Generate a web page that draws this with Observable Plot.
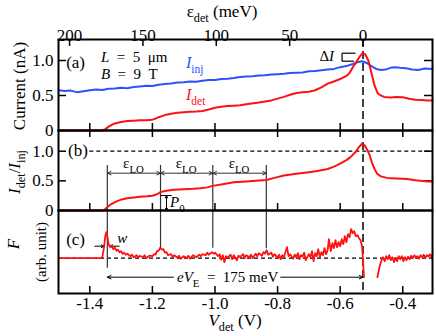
<!DOCTYPE html>
<html><head><meta charset="utf-8">
<script src="https://cdn.jsdelivr.net/npm/d3@7"></script>
<script src="https://cdn.jsdelivr.net/npm/@observablehq/plot@0.6"></script>
<style>
html,body{margin:0;padding:0;background:#fff;}
#wrap{position:relative;width:436px;height:336px;overflow:hidden;background:#fff;font-family:'Liberation Serif',serif;}
#wrap svg{position:absolute;left:0;top:0;}
#wrap svg text{font-family:'Liberation Serif',serif;}
</style></head><body><div id="wrap"></div>
<script>
// ---------------- data ----------------
const xTicks = [-1.4, -1.2, -1.0, -0.8, -0.6, -0.4];
const epsTicks = [200, 150, 100, 50, 0];
const yTicksA = [0, 0.5, 1.0];
const yTicksB = [0, 0.5, 1.0];
const vPeak = -0.527;            // V_det where eps_det = 0
const meVperV = 213.3;           // eps_det scale factor
const loLines = [-1.344, -1.174, -1.007, -0.836];
const loEnds = [-1.0, 0.9, 1.0, 0.95];   // lower ends of the guide lines in panel (c)

// panel (a): injector current
const injV = [-1.50,-1.48,-1.46,-1.44,-1.42,-1.40,-1.38,-1.36,-1.34,-1.32,-1.30,-1.28,-1.26,-1.24,-1.22,-1.20,-1.18,-1.16,-1.14,-1.12,-1.10,-1.08,-1.06,-1.04,-1.02,-1.00,-0.98,-0.96,-0.94,-0.92,-0.90,-0.88,-0.86,-0.84,-0.82,-0.80,-0.78,-0.76,-0.74,-0.72,-0.70,-0.68,-0.66,-0.64,-0.62,-0.60,-0.58,-0.56,-0.545,-0.53,-0.515,-0.50,-0.485,-0.47,-0.455,-0.44,-0.425,-0.41,-0.39,-0.37,-0.35,-0.33,-0.305];
const injI = [0.575,0.565,0.57,0.545,0.56,0.575,0.585,0.58,0.595,0.60,0.61,0.605,0.62,0.63,0.64,0.635,0.655,0.665,0.67,0.685,0.69,0.70,0.695,0.71,0.72,0.72,0.735,0.74,0.75,0.765,0.77,0.775,0.785,0.79,0.80,0.805,0.81,0.82,0.825,0.83,0.845,0.85,0.86,0.87,0.88,0.905,0.92,0.95,0.975,0.99,0.965,0.92,0.88,0.865,0.87,0.895,0.905,0.895,0.89,0.87,0.865,0.885,0.88];
// panel (a): detector current
const detV = [-1.50,-1.36,-1.35,-1.34,-1.33,-1.32,-1.30,-1.28,-1.26,-1.24,-1.22,-1.20,-1.19,-1.18,-1.16,-1.14,-1.12,-1.10,-1.08,-1.06,-1.04,-1.02,-1.00,-0.98,-0.96,-0.94,-0.92,-0.90,-0.86,-0.82,-0.80,-0.78,-0.76,-0.74,-0.72,-0.70,-0.68,-0.66,-0.64,-0.62,-0.60,-0.58,-0.57,-0.56,-0.55,-0.54,-0.53,-0.52,-0.51,-0.50,-0.49,-0.48,-0.47,-0.46,-0.44,-0.42,-0.40,-0.38,-0.36,-0.34,-0.32,-0.305];
const detI = [0,0,0.02,0.055,0.08,0.10,0.12,0.135,0.14,0.145,0.148,0.155,0.17,0.19,0.22,0.24,0.255,0.262,0.268,0.272,0.28,0.30,0.325,0.34,0.35,0.355,0.36,0.375,0.40,0.43,0.455,0.48,0.51,0.535,0.545,0.555,0.575,0.615,0.67,0.70,0.735,0.78,0.82,0.90,0.97,1.04,1.10,1.09,1.00,0.82,0.64,0.53,0.50,0.48,0.47,0.48,0.475,0.455,0.44,0.435,0.43,0.43];
// panel (b): ratio I_det / I_inj
const ratioV = [-1.50,-1.36,-1.355,-1.345,-1.334,-1.318,-1.302,-1.28,-1.259,-1.24,-1.217,-1.20,-1.19,-1.18,-1.174,-1.16,-1.132,-1.10,-1.07,-1.046,-1.025,-1.007,-0.98,-0.94,-0.90,-0.87,-0.836,-0.81,-0.78,-0.74,-0.70,-0.673,-0.64,-0.62,-0.60,-0.58,-0.567,-0.55,-0.54,-0.53,-0.522,-0.514,-0.505,-0.498,-0.49,-0.482,-0.47,-0.45,-0.42,-0.386,-0.36,-0.343,-0.32,-0.305];
const ratioR = [0,0,0.005,0.05,0.10,0.145,0.18,0.205,0.22,0.23,0.24,0.25,0.265,0.29,0.31,0.33,0.35,0.36,0.365,0.375,0.39,0.415,0.44,0.475,0.49,0.50,0.515,0.55,0.59,0.62,0.645,0.665,0.70,0.74,0.79,0.85,0.90,0.99,1.07,1.13,1.10,1.03,0.92,0.80,0.70,0.62,0.575,0.55,0.54,0.53,0.51,0.50,0.49,0.49];
// panel (c): F (arb. unit); null = gap in the trace
const fV = [-1.50,-1.365,-1.36,-1.355,-1.35,-1.347,-1.344,-1.34,-1.335,-1.33,-1.325,-1.32,-1.315,-1.31,-1.305,-1.30,-1.295,-1.29,-1.285,-1.28,-1.27,-1.265,-1.26,-1.25,-1.245,-1.24,-1.23,-1.225,-1.22,-1.21,-1.20,-1.195,-1.19,-1.185,-1.18,-1.175,-1.17,-1.165,-1.16,-1.155,-1.15,-1.14,-1.135,-1.13,-1.12,-1.115,-1.11,-1.10,-1.09,-1.085,-1.08,-1.07,-1.06,-1.05,-1.045,-1.04,-1.03,-1.025,-1.02,-1.01,-1.005,-1.00,-0.99,-0.985,-0.98,-0.975,-0.97,-0.965,-0.96,-0.95,-0.945,-0.94,-0.93,-0.925,-0.92,-0.91,-0.905,-0.90,-0.89,-0.885,-0.88,-0.87,-0.865,-0.86,-0.85,-0.845,-0.84,-0.835,-0.83,-0.82,-0.815,-0.81,-0.80,-0.795,-0.79,-0.785,-0.78,-0.775,-0.77,-0.765,-0.76,-0.75,-0.745,-0.74,-0.735,-0.73,-0.725,-0.72,-0.715,-0.71,-0.70,-0.695,-0.69,-0.685,-0.68,-0.675,-0.67,-0.665,-0.66,-0.655,-0.65,-0.645,-0.64,-0.636,-0.63,-0.625,-0.62,-0.615,-0.61,-0.605,-0.60,-0.595,-0.59,-0.585,-0.58,-0.575,-0.57,-0.565,-0.56,-0.555,-0.55,-0.545,-0.54,-0.535,-0.53,-0.527,-0.524,-0.50,-0.481,-0.474,-0.468,-0.463,-0.458,-0.453,-0.448,-0.443,-0.438,-0.433,-0.428,-0.423,-0.418,-0.413,-0.408,-0.403,-0.398,-0.393,-0.388,-0.383,-0.378,-0.373,-0.368,-0.363,-0.358,-0.353,-0.348,-0.343,-0.338,-0.333,-0.328,-0.323,-0.318,-0.313,-0.308,-0.305];
const fF = [0,0,0.1,1.0,2.3,2.6,2.2,1.4,1.1,1.25,0.9,1.05,0.75,0.85,0.6,0.7,0.45,0.55,0.35,0.45,0.2,0.35,0.1,0.3,0.05,0.25,0.1,0.3,0.0,0.25,0.2,0.4,0.35,0.7,0.75,1.05,0.85,0.9,0.55,0.6,0.3,0.4,0.1,0.3,0.05,0.25,-0.05,0.2,0.05,0.25,-0.05,0.3,0.1,0.35,0.2,0.4,0.3,0.55,0.35,0.6,0.45,0.55,0.2,0.4,-0.15,0.3,-0.4,0.2,0.05,0.35,-0.1,0.3,-0.2,0.25,0.1,0.4,0.0,0.3,0.1,0.35,0.0,0.45,0.2,0.5,0.25,0.6,0.45,0.8,0.35,0.55,0.15,0.4,0.05,0.35,-0.1,0.3,0.1,0.6,1.1,0.2,0.4,-0.05,0.35,0.1,0.5,-0.1,0.3,0.15,0.55,-0.2,0.4,0.1,0.7,-0.3,0.5,0.2,0.9,0.1,0.6,0.3,1.0,0.4,0.8,1.9,0.7,1.5,1.0,1.8,1.1,1.6,1.2,1.9,1.4,2.2,1.6,2.4,2.1,2.9,2.5,2.7,2.2,2.3,2.0,1.8,1.2,-0.3,-1.9,null,-1.9,-0.8,-0.2,0.1,-0.3,0.2,-0.1,0.3,-0.2,0.1,-0.4,0.0,-0.3,0.2,-0.1,0.2,-0.3,0.1,-0.2,0.15,-0.1,0.25,0.0,0.3,0.05,0.2,-0.05,0.3,0.1,0.35,0.0,0.3,0.15,0.4,0.1,0.3];

// ---------------- layout ----------------
const W = 436, H = 336, ML = 58, MR = 4;
const xDomain = [-1.5, -0.305];
const RED = "#ff1111", BLUE = "#2f50ff", GUIDE = "#333";
const FONT = "'Liberation Serif', serif";
const toV = e => vPeak - e / meVperV;
const fmtY = d => d === 0 ? "0" : d.toFixed(1);
const zip = (a, b, k1, k2) => a.map((v, i) => ({[k1]: v, [k2]: b[i]}));
const inj = zip(injV, injI, "V", "I");
const det = zip(detV, detI, "V", "I");
const ratio = zip(ratioV, ratioR, "V", "R");
const fdat = zip(fV, fF, "V", "F");

const style = {background: "transparent", fontFamily: FONT, fontSize: "17px", color: "black", overflow: "visible"};
const plotW = W - ML - MR;

function panel(top, bottom, yDomain, marks) {
  return Plot.plot({
    width: W, height: H, marginLeft: ML, marginRight: MR,
    marginTop: top, marginBottom: H - bottom,
    x: {domain: xDomain, axis: null}, y: {domain: yDomain, axis: null},
    style, marks
  });
}
const dbl = (x1, x2, y) => { const m = (x1 + x2) / 2; return [{x1: m, y1: y, x2: x1, y2: y}, {x1: m, y1: y, x2: x2, y2: y}]; };

// ---- panel (a)
const bandA = 130 - 39;
const pA = panel(39, 130, [0, 1.3], [
  Plot.ruleX([vPeak], {strokeDasharray: "8,4", strokeWidth: 1.5}),
  Plot.tickX(xTicks, {x: d => d, insetTop: bandA - 7, strokeWidth: 1.5}),
  Plot.tickX(epsTicks, {x: toV, insetBottom: bandA - 7, strokeWidth: 1.5}),
  Plot.tickY([0.5, 1.0], {y: d => d, insetRight: plotW - 8, strokeWidth: 1.5}),
  Plot.tickY([0.5, 1.0], {y: d => d, insetLeft: plotW - 8, strokeWidth: 1.5}),
  Plot.text(epsTicks, {x: toV, text: e => String(e), frameAnchor: "top", dy: -11, fontSize: 17, fontFamily: FONT}),
  Plot.text(yTicksA, {y: d => d, text: fmtY, frameAnchor: "left", textAnchor: "end", dx: -5, fontSize: 17, fontFamily: FONT}),
  Plot.link([{x1: -0.594, y1: 1.104, x2: -0.551, y2: 1.104}, {x1: -0.594, y1: 0.99, x2: -0.556, y2: 0.99}, {x1: -0.594, y1: 0.99, x2: -0.594, y2: 1.104}],
    {x1: "x1", y1: "y1", x2: "x2", y2: "y2", stroke: "black", strokeWidth: 1.2}),
  Plot.line(inj, {x: "V", y: "I", stroke: BLUE, strokeWidth: 2}),
  Plot.line(det, {x: "V", y: "I", stroke: RED, strokeWidth: 2}),
  Plot.frame({stroke: "black", strokeWidth: 2})
]);

// ---- panel (b)
const bandB = 210 - 130;
const loArrows = [0, 1, 2].flatMap(i => dbl(loLines[i], loLines[i + 1], 0.629));
const pB = panel(130, 210, [0, 1.349], [
  Plot.ruleX([vPeak], {strokeDasharray: "8,4", strokeWidth: 1.5}),
  Plot.ruleY([1], {x1: -1.40, x2: xDomain[1], strokeDasharray: "4,3", strokeWidth: 1.2}),
  Plot.tickX(xTicks, {x: d => d, insetTop: bandB - 7, strokeWidth: 1.5}),
  Plot.tickX(xTicks, {x: d => d, insetBottom: bandB - 7, strokeWidth: 1.5}),
  Plot.tickY([0.5, 1.0], {y: d => d, insetRight: plotW - 8, strokeWidth: 1.5}),
  Plot.tickY([0.5, 1.0], {y: d => d, insetLeft: plotW - 8, strokeWidth: 1.5}),
  Plot.text(yTicksB, {y: d => d, text: fmtY, frameAnchor: "left", textAnchor: "end", dx: -5, fontSize: 17, fontFamily: FONT}),
  Plot.ruleX(loLines, {x: d => d, y1: 0, y2: 0.76, stroke: GUIDE, strokeWidth: 1.2}),
  Plot.arrow(loArrows, {x1: "x1", y1: "y1", x2: "x2", y2: "y2", stroke: GUIDE, strokeWidth: 1, headLength: 6, headAngle: 50}),
  Plot.arrow([{x1: -1.155, y1: 0.126, x2: -1.155, y2: 0.253}, {x1: -1.155, y1: 0.126, x2: -1.155, y2: 0.0}],
    {x1: "x1", y1: "y1", x2: "x2", y2: "y2", stroke: "black", strokeWidth: 1, headLength: 5, headAngle: 50}),
  Plot.link([{x1: -1.174, y1: 0.253, x2: -1.138, y2: 0.253}], {x1: "x1", y1: "y1", x2: "x2", y2: "y2", stroke: "black", strokeWidth: 1}),
  Plot.line(ratio, {x: "V", y: "R", stroke: RED, strokeWidth: 2}),
  Plot.frame({stroke: "black", strokeWidth: 2})
]);

// ---- panel (c)
const bandC = 293 - 210;
const pC = panel(210, 293, [-3.53, 4.77], [
  Plot.ruleY([0], {strokeDasharray: "4,3", strokeWidth: 1.2}),
  Plot.ruleX([vPeak], {strokeDasharray: "8,4", strokeWidth: 1.5}),
  Plot.tickX(xTicks, {x: d => d, insetTop: bandC - 7, strokeWidth: 1.5}),
  Plot.text(xTicks, {x: d => d, text: d => d.toFixed(1), frameAnchor: "bottom", dy: 15, fontSize: 17, fontFamily: FONT}),
  Plot.ruleX(loLines.map((v, i) => ({V: v, lo: loEnds[i]})), {x: "V", y1: "lo", y2: 4.77, stroke: GUIDE, strokeWidth: 1.2}),
  Plot.arrow([{x1: -1.384, y1: 1.2, x2: -1.354, y2: 1.2}, {x1: -1.306, y1: 1.2, x2: -1.336, y2: 1.2},
              {x1: -1.133, y1: -1.9, x2: -1.344, y2: -1.9}, {x1: -0.79, y1: -1.9, x2: -0.527, y2: -1.9}],
    {x1: "x1", y1: "y1", x2: "x2", y2: "y2", stroke: "black", strokeWidth: 1, headLength: 6, headAngle: 50}),
  Plot.line(fdat, {x: "V", y: "F", stroke: RED, strokeWidth: 1.8}),
  Plot.frame({stroke: "black", strokeWidth: 2})
]);

const wrap = document.getElementById("wrap");
for (const p of [pA, pB, pC]) wrap.appendChild(p);

// ---------------- rich text ----------------
function rich(svg, x, y, parts, o = {}) {
  const size = o.size || 15;
  const t = d3.select(svg).append("text")
    .attr("font-family", FONT).attr("font-size", size)
    .attr("fill", o.fill || "black").attr("text-anchor", o.anchor || "start")
    .attr("style", "white-space:pre;font-family:'Liberation Serif',serif");
  if (o.rotate) t.attr("transform", `translate(${x},${y}) rotate(${o.rotate})`).attr("x", 0).attr("y", 0);
  else t.attr("x", x).attr("y", y);
  t.attr("dy", "0.35em");
  let shift = 0;
  for (const [s, st = ""] of parts) {
    const sp = t.append("tspan").text(s);
    const sub = st.includes("sub");
    const target = sub ? size * 0.32 : 0;
    if (target !== shift) { sp.attr("dy", target - shift); shift = target; }
    if (sub) sp.attr("font-size", size * 0.72);
    if (st.includes("i")) sp.attr("font-style", "italic");
  }
}
const sc = p => ({x: p.scale("x").apply.bind(p.scale("x")), y: p.scale("y").apply.bind(p.scale("y"))});
const A = sc(pA), B = sc(pB), C = sc(pC);
const EN = "\u2002";

// panel (a) annotations
rich(pA, A.x(-1.474), A.y(0.97), [["(a)"]], {size: 17});
rich(pA, A.x(-1.363), A.y(1.04), [["L", "i"], [EN + "=" + EN + "5" + EN + "μm"]]);
rich(pA, A.x(-1.363), A.y(0.805), [["B", "i"], [EN + "=" + EN + "9" + EN + "T"]]);
rich(pA, A.x(-1.091), A.y(0.97), [["I", "i"], ["inj", "sub"]], {fill: BLUE, size: 16});
rich(pA, A.x(-1.091), A.y(0.51), [["I", "i"], ["det", "sub"]], {fill: RED, size: 16});
rich(pA, A.x(-0.618), A.y(1.06), [["Δ"], ["I", "i"]], {anchor: "end"});
// panel (b) annotations
rich(pB, B.x(-1.468), B.y(1.01), [["(b)"]], {size: 17});
for (let i = 0; i < 3; i++) rich(pB, B.x((loLines[i] + loLines[i + 1]) / 2), B.y(0.79), [["ε"], ["LO", "sub"]], {anchor: "middle"});
rich(pB, B.x(-1.142), B.y(0.135), [["P", "i"], ["0", "sub"]]);
// panel (c) annotations
rich(pC, C.x(-1.474), C.y(1.87), [["(c)"]], {size: 17});
rich(pC, C.x(-1.311), C.y(1.97), [["w", "i"]]);
rich(pC, C.x(-0.958), C.y(-1.9), [["e", "i"], ["V", "i"], ["E", "sub"], [EN + "=" + EN + "175 meV"]], {anchor: "middle"});

// axis titles
rich(pC, 222, 11, [["ε"], ["det", "sub"], [" (meV)"]], {anchor: "middle", size: 17});
rich(pC, 235, 320, [["V", "i"], ["det", "sub"], [" (V)"]], {anchor: "middle", size: 17});
rich(pC, 19, 86, [["Current (nA)"]], {anchor: "middle", size: 17, rotate: -90});
rich(pC, 14, 172, [["I", "i"], ["det", "sub"], ["/"], ["I", "i"], ["inj", "sub"]], {anchor: "middle", size: 17, rotate: -90});
rich(pC, 13, 244, [["F", "i"]], {anchor: "middle", size: 17, rotate: -90});
rich(pC, 41, 252, [["(arb. unit)"]], {anchor: "middle", size: 15, rotate: -90});
</script>
</body></html>
